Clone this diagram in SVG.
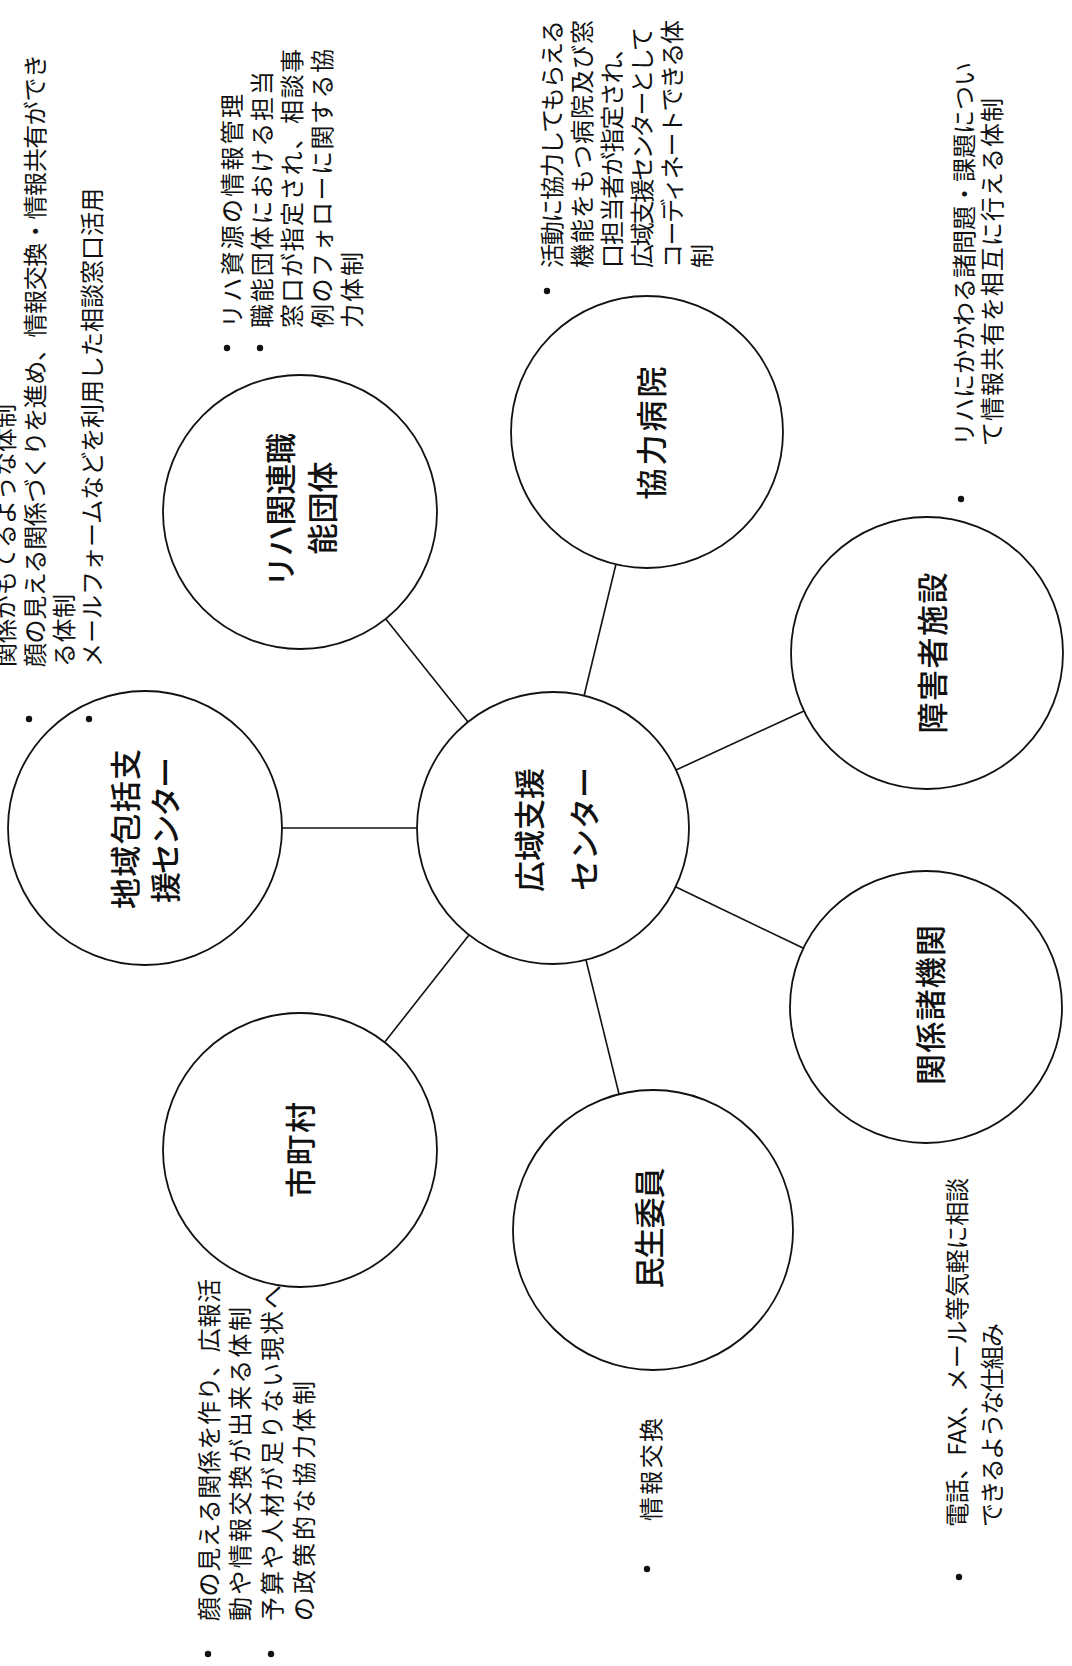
<svg xmlns="http://www.w3.org/2000/svg" width="1072" height="1666" viewBox="0 0 1072 1666">
<style>
.bg{fill:#fff}
.node circle{fill:#fff;stroke:#111;stroke-width:1.8}
.conn line{stroke:#111;stroke-width:1.6}
text{font-family:"Noto Sans CJK JP","Noto Sans CJK SC",sans-serif;fill:#111;dominant-baseline:central}
.n{font-size:31px;text-anchor:middle;font-weight:500}
.b{font-size:24px;text-anchor:start}
.dot{fill:#111}
</style>
<rect class="bg" x="0" y="0" width="1072" height="1666"/>
<g id="connectors" class="conn">
<line x1="417" y1="828" x2="281" y2="828"/>
<line x1="468" y1="722" x2="385" y2="618"/>
<line x1="584" y1="696" x2="616" y2="564"/>
<line x1="676" y1="770" x2="804" y2="711"/>
<line x1="676" y1="887" x2="803" y2="948"/>
<line x1="586" y1="960" x2="620" y2="1098"/>
<line x1="469" y1="935" x2="384" y2="1043"/>
</g>
<g id="node-center" class="node">
<circle cx="553" cy="828" r="136"/>
<text class="n" transform="translate(527,830) rotate(-90)">広域支援</text>
<text class="n" transform="translate(582,829) rotate(-90)">センター</text>
</g>
<g id="node-chiiki" class="node">
<circle cx="145" cy="828" r="137"/>
<text class="n" transform="translate(123,829) rotate(-90)" textLength="160" lengthAdjust="spacing">地域包括支</text>
<text class="n" transform="translate(163,830) rotate(-90)" textLength="146" lengthAdjust="spacing">援センター</text>
</g>
<g id="node-riha" class="node">
<circle cx="300" cy="512" r="137"/>
<text class="n" transform="translate(278,510) rotate(-90)" textLength="154" lengthAdjust="spacing">リハ関連職</text>
<text class="n" transform="translate(320,508) rotate(-90)">能団体</text>
</g>
<g id="node-kyoryoku" class="node">
<circle cx="647" cy="432" r="136"/>
<text class="n" transform="translate(649,433) rotate(-90)" textLength="133" lengthAdjust="spacing">協力病院</text>
</g>
<g id="node-shogai" class="node">
<circle cx="927" cy="653" r="136"/>
<text class="n" transform="translate(930,653) rotate(-90)" textLength="161" lengthAdjust="spacing">障害者施設</text>
</g>
<g id="node-kankei" class="node">
<circle cx="926" cy="1007" r="136"/>
<text class="n" transform="translate(928,1005) rotate(-90)" textLength="160" lengthAdjust="spacing">関係諸機関</text>
</g>
<g id="node-minsei" class="node">
<circle cx="653" cy="1230" r="140"/>
<text class="n" transform="translate(647,1228) rotate(-90)" textLength="121" lengthAdjust="spacing">民生委員</text>
</g>
<g id="node-shichoson" class="node">
<circle cx="300" cy="1150" r="137"/>
<text class="n" transform="translate(298,1150) rotate(-90)" textLength="96" lengthAdjust="spacing">市町村</text>
</g>
<g id="note-chiiki">
<text class="b" transform="translate(3,667) rotate(-90)">関係がもてるような体制</text>
<text class="b" transform="translate(33,667) rotate(-90)" textLength="613" lengthAdjust="spacing">顔の見える関係づくりを進め、情報交換・情報共有ができ</text>
<text class="b" transform="translate(62,667) rotate(-90)" textLength="73" lengthAdjust="spacing">る体制</text>
<text class="b" transform="translate(90,667) rotate(-90)" textLength="479" lengthAdjust="spacing">メールフォームなどを利用した相談窓口活用</text>
<circle class="dot" cx="29" cy="719" r="3.2"/>
<circle class="dot" cx="89" cy="719" r="3.2"/>
</g>
<g id="note-riha">
<text class="b" transform="translate(230,328) rotate(-90)" textLength="234" lengthAdjust="spacing">リハ資源の情報管理</text>
<text class="b" transform="translate(260,328) rotate(-90)" textLength="257" lengthAdjust="spacing">職能団体における担当</text>
<text class="b" transform="translate(290,328) rotate(-90)" textLength="279" lengthAdjust="spacing">窓口が指定され、相談事</text>
<text class="b" transform="translate(320,328) rotate(-90)" textLength="279" lengthAdjust="spacing">例のフォローに関する協</text>
<text class="b" transform="translate(350,328) rotate(-90)" textLength="76" lengthAdjust="spacing">力体制</text>
<circle class="dot" cx="227" cy="348" r="3.2"/>
<circle class="dot" cx="260" cy="348" r="3.2"/>
</g>
<g id="note-kyoryoku">
<text class="b" transform="translate(550,268) rotate(-90)" textLength="248" lengthAdjust="spacing">活動に協力してもらえる</text>
<text class="b" transform="translate(580,268) rotate(-90)" textLength="248" lengthAdjust="spacing">機能をもつ病院及び窓</text>
<text class="b" transform="translate(610,268) rotate(-90)" textLength="232" lengthAdjust="spacing">口担当者が指定され、</text>
<text class="b" transform="translate(640,268) rotate(-90)" textLength="241" lengthAdjust="spacing">広域支援センターとして</text>
<text class="b" transform="translate(670,268) rotate(-90)" textLength="248" lengthAdjust="spacing">コーディネートできる体</text>
<text class="b" transform="translate(700,268) rotate(-90)">制</text>
<circle class="dot" cx="547" cy="291" r="3.2"/>
</g>
<g id="note-shogai">
<text class="b" transform="translate(962,446) rotate(-90)" textLength="384" lengthAdjust="spacing">リハにかかわる諸問題・課題につい</text>
<text class="b" transform="translate(990,446) rotate(-90)" textLength="348" lengthAdjust="spacing">て情報共有を相互に行える体制</text>
<circle class="dot" cx="961" cy="499" r="3.2"/>
</g>
<g id="note-kankei">
<text class="b" transform="translate(955,1527) rotate(-90)" textLength="349" lengthAdjust="spacing">電話、FAX、メール等気軽に相談</text>
<text class="b" transform="translate(990,1527) rotate(-90)" textLength="204" lengthAdjust="spacing">できるような仕組み</text>
<circle class="dot" cx="959" cy="1577" r="3.2"/>
</g>
<g id="note-minsei">
<text class="b" transform="translate(649,1521) rotate(-90)" textLength="103" lengthAdjust="spacing">情報交換</text>
<circle class="dot" cx="647" cy="1569" r="3.2"/>
</g>
<g id="note-shichoson">
<text class="b" transform="translate(207,1621) rotate(-90)" textLength="342" lengthAdjust="spacing">顔の見える関係を作り、広報活</text>
<text class="b" transform="translate(238,1621) rotate(-90)" textLength="314" lengthAdjust="spacing">動や情報交換が出来る体制</text>
<text class="b" transform="translate(270,1621) rotate(-90)" textLength="336" lengthAdjust="spacing">予算や人材が足りない現状へ</text>
<text class="b" transform="translate(302,1621) rotate(-90)" textLength="240" lengthAdjust="spacing">の政策的な協力体制</text>
<circle class="dot" cx="208" cy="1654" r="3.2"/>
<circle class="dot" cx="271" cy="1654" r="3.2"/>
</g>
</svg>
